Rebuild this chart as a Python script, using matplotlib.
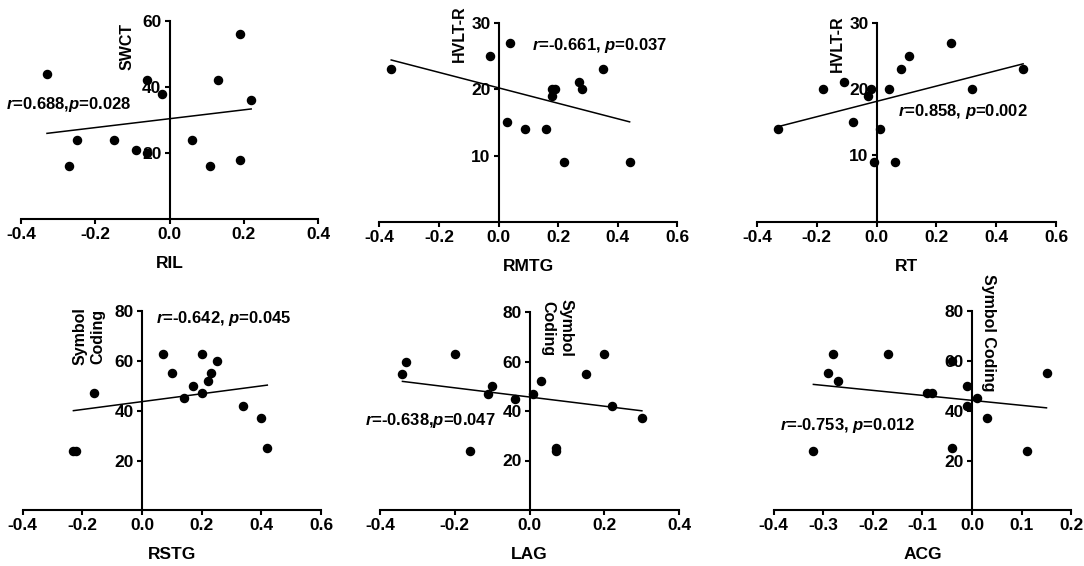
import numpy as np
import matplotlib
matplotlib.use('Agg')
import matplotlib.pyplot as plt

plt.rcParams['font.family'] = ['Liberation Sans', 'DejaVu Sans']
plt.rcParams['font.weight'] = 'bold'
plt.rcParams['mathtext.fontset'] = 'custom'
plt.rcParams['mathtext.it'] = 'Liberation Sans:italic:bold'
plt.rcParams['mathtext.rm'] = 'Liberation Sans:bold'

# data
ril_x = [-0.33, 0.19, -0.06, 0.13, -0.02, 0.22, -0.25, -0.15, 0.06, -0.09, -0.06, -0.27, 0.11, 0.19]
swct_y = [44, 56, 42, 42, 38, 36, 24, 24, 24, 21, 20, 16, 16, 18]

rmtg_x = [-0.36, -0.03, 0.04, 0.35, 0.27, 0.28, 0.18, 0.19, 0.18, 0.03, 0.09, 0.16, 0.22, 0.44]
hvlt_rmtg_y = [23, 25, 27, 23, 21, 20, 20, 20, 19, 15, 14, 14, 9, 9]

rt_x = [-0.33, -0.18, -0.11, -0.08, -0.03, -0.02, 0.01, -0.01, 0.06, 0.04, 0.08, 0.11, 0.25, 0.32, 0.49]
hvlt_rt_y = [14, 20, 21, 15, 19, 20, 14, 9, 9, 20, 23, 25, 27, 20, 23]

rstg_x = [-0.23, -0.22, -0.16, 0.07, 0.10, 0.14, 0.17, 0.20, 0.20, 0.22, 0.23, 0.25, 0.34, 0.40, 0.42]
sc_rstg_y = [24, 24, 47, 63, 55, 45, 50, 63, 47, 52, 55, 60, 42, 37, 25]

lag_x = [-0.34, -0.33, -0.20, -0.16, -0.11, -0.10, -0.04, 0.01, 0.03, 0.07, 0.07, 0.15, 0.20, 0.22, 0.30]
sc_lag_y = [55, 60, 63, 24, 47, 50, 45, 47, 52, 25, 24, 55, 63, 42, 37]

acg_x = [-0.32, -0.29, -0.28, -0.27, -0.17, -0.09, -0.08, -0.04, -0.04, -0.01, -0.01, 0.01, 0.03, 0.11, 0.15]
sc_acg_y = [24, 55, 63, 52, 63, 47, 47, 60, 25, 50, 42, 45, 37, 24, 55]

stats = [r'$r$=0.688,$p$=0.028', r'$r$=-0.661, $p$=0.037', r'$r$=0.858, $p$=0.002',
         r'$r$=-0.642, $p$=0.045', r'$r$=-0.638,$p$=0.047', r'$r$=-0.753, $p$=0.012']
xlabels = ['RIL', 'RMTG', 'RT', 'RSTG', 'LAG', 'ACG']
ylabels = ['SWCT', 'HVLT-R', 'HVLT-R', 'Symbol\nCoding', 'Symbol\nCoding', 'Symbol Coding']

panels = [
    dict(x=ril_x, y=swct_y, xlim=(-0.4, 0.4), xt=[-0.4, -0.2, 0.0, 0.2, 0.4], ylim=(0, 60), yt=[20, 40, 60],
         rect=(21, 318, 21, 219), txt=(-0.44, 34.8), lab=(-0.115, 52.2), rot=90),
    dict(x=rmtg_x, y=hvlt_rmtg_y, xlim=(-0.4, 0.6), xt=[-0.4, -0.2, 0.0, 0.2, 0.4, 0.6], ylim=(0, 30), yt=[10, 20, 30],
         rect=(379.3, 677.3, 22.7, 222), txt=(0.111, 26.6), lab=(-0.132, 28.4), rot=90),
    dict(x=rt_x, y=hvlt_rt_y, xlim=(-0.4, 0.6), xt=[-0.4, -0.2, 0.0, 0.2, 0.4, 0.6], ylim=(0, 30), yt=[10, 20, 30],
         rect=(757, 1056, 22.7, 221.7), txt=(0.072, 16.6), lab=(-0.132, 26.9), rot=90),
    dict(x=rstg_x, y=sc_rstg_y, xlim=(-0.4, 0.6), xt=[-0.4, -0.2, 0.0, 0.2, 0.4, 0.6], ylim=(0, 80), yt=[20, 40, 60, 80],
         rect=(22.7, 321, 311.3, 510.3), txt=(0.047, 77.2), lab=(-0.177, 69.9), rot=90),
    dict(x=lag_x, y=sc_lag_y, xlim=(-0.4, 0.4), xt=[-0.4, -0.2, 0.0, 0.2, 0.4], ylim=(0, 80), yt=[20, 40, 60, 80],
         rect=(380, 679.3, 312, 510), txt=(-0.44, 36.2), lab=(0.074, 73.5), rot=-90),
    dict(x=acg_x, y=sc_acg_y, xlim=(-0.4, 0.2), xt=[-0.4, -0.3, -0.2, -0.1, 0.0, 0.1, 0.2], ylim=(0, 80), yt=[20, 40, 60, 80],
         rect=(773.7, 1071.3, 311.3, 510.3), txt=(-0.388, 34), lab=(0.034, 71.3), rot=-90),
]

W, H = 1084, 566
fig = plt.figure(figsize=(W / 100, H / 100), dpi=100)

for i, p in enumerate(panels):
    x0, x1, yt_px, yb_px = p['rect']
    ax = fig.add_axes([x0 / W, 1 - yb_px / H, (x1 - x0) / W, (yb_px - yt_px) / H])
    x = np.array(p['x'])
    y = np.array(p['y'])
    ax.scatter(x, y, s=34, color='black', zorder=3, clip_on=False)
    k, b = np.polyfit(x, y, 1)
    xs = np.array([x.min(), x.max()])
    ax.plot(xs, k * xs + b, color='black', lw=1.1)

    ax.set_xlim(p['xlim'])
    ax.set_ylim(p['ylim'])
    ax.set_xticks(p['xt'])
    ax.set_xticklabels(['%.1f' % v for v in p['xt']])
    ax.set_yticks(p['yt'])
    for s in ['top', 'right']:
        ax.spines[s].set_visible(False)
    ax.spines['left'].set_position(('data', 0))
    ax.spines['left'].set_linewidth(1.5)
    ax.spines['bottom'].set_linewidth(1.5)
    ax.tick_params(direction='out', length=3.8, width=1.5, labelsize=12.5, pad=2)
    ax.patch.set_alpha(0)

    ax.set_xlabel(xlabels[i], fontsize=12.5, fontweight='bold', labelpad=10)
    ax.text(p['txt'][0], p['txt'][1], stats[i], fontsize=12, fontweight='bold',
            ha='left', va='center')
    ax.text(p['lab'][0], p['lab'][1], ylabels[i], fontsize=11.5, fontweight='bold',
            rotation=p['rot'], ha='center', va='center', linespacing=1.25)

fig.savefig('out.png', dpi=100)
